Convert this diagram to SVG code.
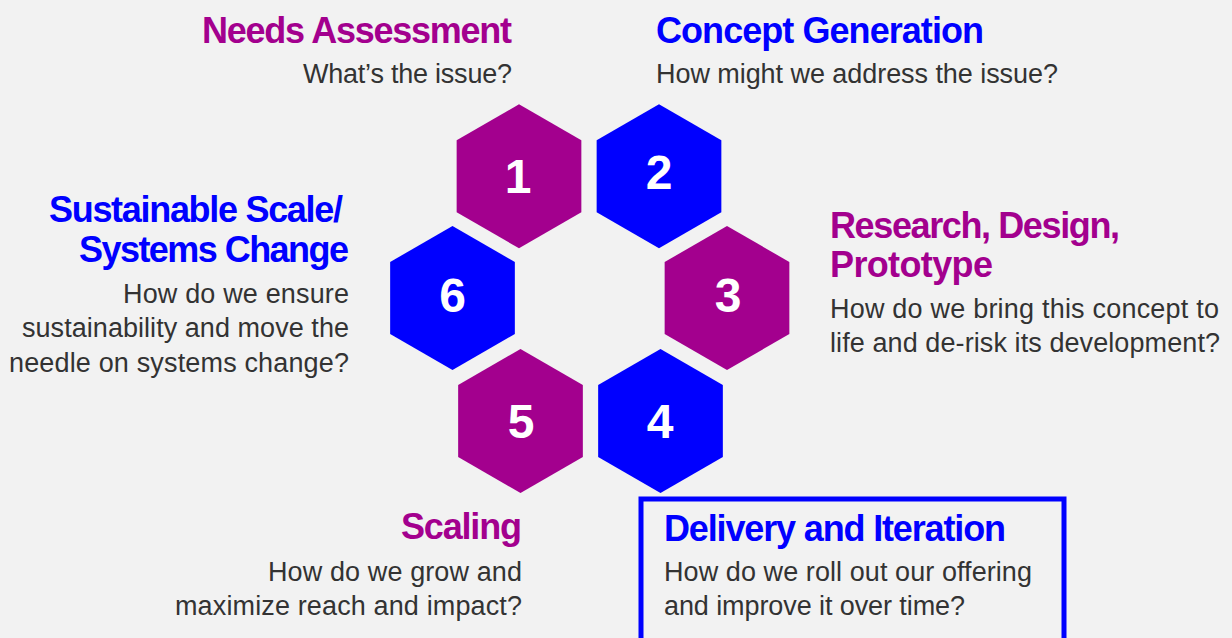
<svg xmlns="http://www.w3.org/2000/svg" width="1232" height="638" viewBox="0 0 1232 638">
  <style>
    .hex-m { fill: #A3008E; }
    .hex-b { fill: #0000FF; }
    .num { font-family: "Liberation Sans", Arial, sans-serif; font-weight: 700; font-size: 48px; fill: #FFFFFF; text-anchor: middle; }
    .head { font-family: "Liberation Sans", Arial, sans-serif; font-weight: 700; font-size: 36px; }
    .head-m { fill: #A3008E; }
    .head-b { fill: #0000FF; }
    .body { font-family: "Liberation Sans", Arial, sans-serif; font-weight: 400; font-size: 27px; fill: #333333; }
    .end { text-anchor: end; }
    .frame { fill: none; stroke: #0000FF; stroke-width: 5; }
  </style>
  <defs>
    <!-- pointy-top hexagon, circumradius 72, centred on the origin -->
    <polygon id="hexagon" points="0,-72 62.35,-36 62.35,36 0,72 -62.35,36 -62.35,-36"/>
  </defs>

  <rect width="1232" height="638" fill="#F2F2F2"/>

  <g id="connectors"/>

  <g id="step1">
    <use href="#hexagon" class="hex-m" x="519" y="176.3"/>
    <text class="num" x="518" y="193">1</text>
    <text class="head head-m end" x="512" y="42.7" textLength="310" lengthAdjust="spacing">Needs Assessment</text>
    <text class="body end" x="512" y="82.7" textLength="209" lengthAdjust="spacing">What’s the issue?</text>
  </g>

  <g id="step2">
    <use href="#hexagon" class="hex-b" x="659" y="176.3"/>
    <text class="num" x="659" y="189">2</text>
    <text class="head head-b" x="656" y="43.3" textLength="328" lengthAdjust="spacing">Concept Generation</text>
    <text class="body" x="656" y="83.3" textLength="402" lengthAdjust="spacing">How might we address the issue?</text>
  </g>

  <g id="step3">
    <use href="#hexagon" class="hex-m" x="727" y="298"/>
    <text class="num" x="728" y="312">3</text>
    <text class="head head-m" x="830" y="238.3" textLength="290" lengthAdjust="spacing">Research, Design,</text>
    <text class="head head-m" x="830" y="276.7" textLength="163" lengthAdjust="spacing">Prototype</text>
    <text class="body" x="830" y="318.3" textLength="389" lengthAdjust="spacing">How do we bring this concept to</text>
    <text class="body" x="830" y="352.3" textLength="390" lengthAdjust="spacing">life and de-risk its development?</text>
  </g>

  <g id="step4">
    <use href="#hexagon" class="hex-b" x="660.5" y="421"/>
    <text class="num" x="660" y="438">4</text>
    <rect class="frame" x="641" y="499" width="423" height="150"/>
    <text class="head head-b" x="664" y="540.7" textLength="342" lengthAdjust="spacing">Delivery and Iteration</text>
    <text class="body" x="664" y="580.7" textLength="368" lengthAdjust="spacing">How do we roll out our offering</text>
    <text class="body" x="664" y="615" textLength="301" lengthAdjust="spacing">and improve it over time?</text>
  </g>

  <g id="step5">
    <use href="#hexagon" class="hex-m" x="520.5" y="421"/>
    <text class="num" x="521" y="438">5</text>
    <text class="head head-m end" x="522" y="539.3" textLength="121" lengthAdjust="spacing">Scaling</text>
    <text class="body end" x="522" y="580.7" textLength="254" lengthAdjust="spacing">How do we grow and</text>
    <text class="body end" x="522" y="615" textLength="347" lengthAdjust="spacing">maximize reach and impact?</text>
  </g>

  <g id="step6">
    <use href="#hexagon" class="hex-b" x="452.5" y="298"/>
    <text class="num" x="452.5" y="312">6</text>
    <text class="head head-b end" x="343" y="221.7" textLength="294" lengthAdjust="spacing">Sustainable Scale/</text>
    <text class="head head-b end" x="349" y="261.7" textLength="270" lengthAdjust="spacing">Systems Change</text>
    <text class="body end" x="349" y="302.7" textLength="226" lengthAdjust="spacing">How do we ensure</text>
    <text class="body end" x="349" y="337.3" textLength="327" lengthAdjust="spacing">sustainability and move the</text>
    <text class="body end" x="349" y="371.7" textLength="340" lengthAdjust="spacing">needle on systems change?</text>
  </g>
</svg>
